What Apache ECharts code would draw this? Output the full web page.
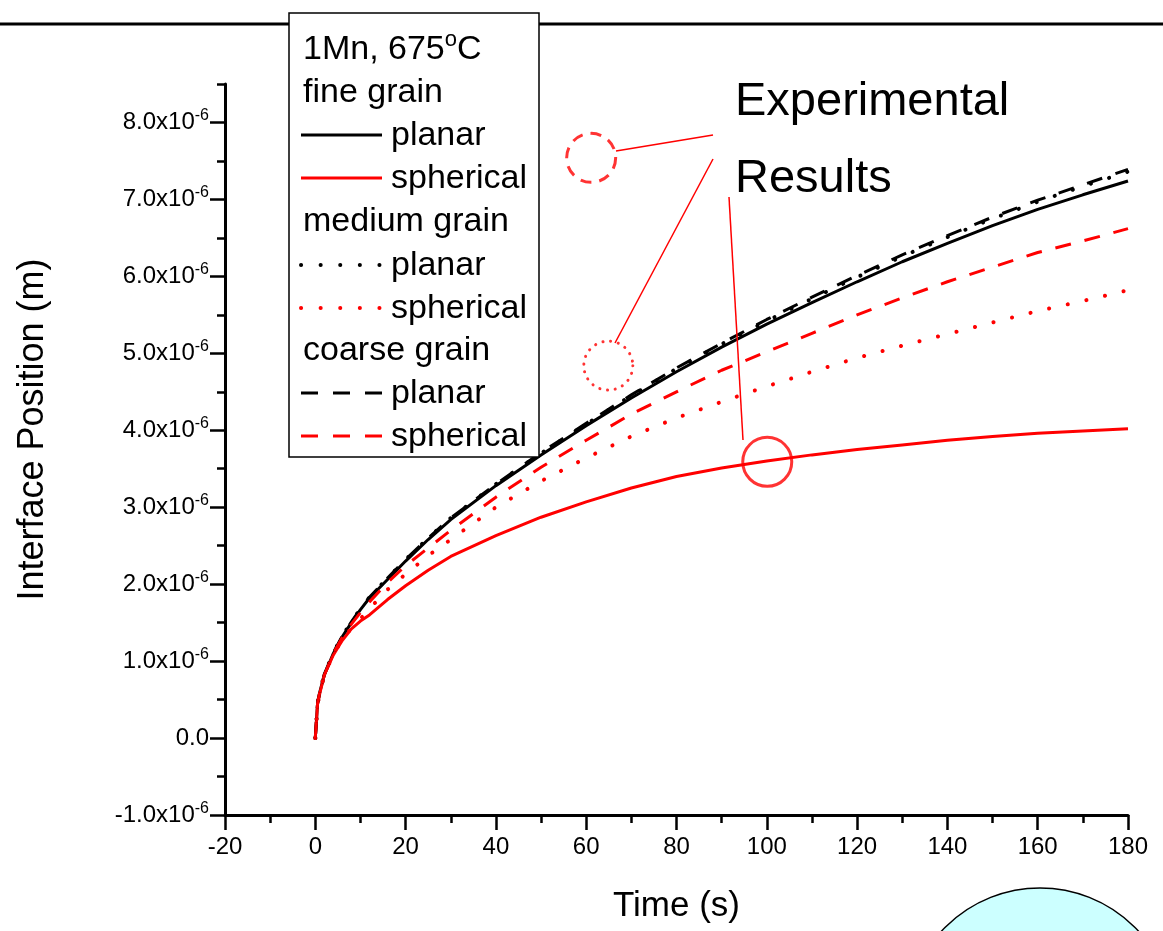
<!DOCTYPE html>
<html>
<head>
<meta charset="utf-8">
<script src="https://cdn.jsdelivr.net/npm/echarts@6/dist/echarts.min.js"></script>
<style>html,body{margin:0;padding:0;background:#fff;}#c{width:1163px;height:931px;}</style>
</head>
<body>
<div id="c"></div>
<script>
// Time (s)
const times = [0,0.5,1,2,4,6,8,10,12,16,20,25,30,40,50,60,70,80,90,100,110,120,130,140,150,160,170,180];
// Interface position, in units of 1e-6 m
const finePlanar     = [0,0.45,0.60,0.82,1.10,1.32,1.50,1.67,1.82,2.06,2.30,2.58,2.84,3.28,3.68,4.06,4.42,4.76,5.08,5.38,5.66,5.93,6.19,6.43,6.66,6.87,7.06,7.24];
const fineSpherical  = [0,0.44,0.58,0.82,1.08,1.27,1.42,1.52,1.60,1.80,1.98,2.18,2.36,2.63,2.87,3.07,3.25,3.40,3.51,3.60,3.68,3.75,3.81,3.87,3.92,3.96,3.99,4.02];
const mediumPlanar   = [0,0.45,0.60,0.83,1.11,1.33,1.51,1.68,1.83,2.08,2.32,2.60,2.86,3.30,3.70,4.08,4.45,4.80,5.12,5.42,5.71,5.99,6.26,6.51,6.75,6.97,7.17,7.36];
const mediumSpherical= [0,0.44,0.59,0.82,1.09,1.28,1.43,1.55,1.68,1.93,2.13,2.37,2.58,3.00,3.34,3.64,3.92,4.16,4.37,4.57,4.76,4.94,5.10,5.25,5.40,5.55,5.68,5.82];
const coarsePlanar   = [0,0.45,0.60,0.83,1.11,1.33,1.51,1.68,1.83,2.08,2.32,2.60,2.86,3.30,3.71,4.09,4.46,4.81,5.13,5.44,5.73,6.01,6.28,6.53,6.77,6.99,7.19,7.39];
const coarseSpherical= [0,0.45,0.60,0.82,1.10,1.31,1.48,1.63,1.77,2.02,2.24,2.47,2.70,3.13,3.52,3.87,4.21,4.50,4.78,5.02,5.26,5.50,5.72,5.93,6.12,6.31,6.46,6.62];
// Experimental results markers: [time, position(1e-6 m)]
const expCoarse = [61.1, 7.54];
const expMedium = [64.9, 4.84];
const expFine   = [100.1, 3.59];
// Tick values
const xTicks = [-20,0,20,40,60,80,100,120,140,160,180];
const yTicks = [-1,0,1,2,3,4,5,6,7,8];

const FONT = '"Liberation Sans", Arial, sans-serif';
const pair = arr => times.map((t,i)=>[t,arr[i]]);
const chart = echarts.init(document.getElementById('c'), null, {renderer:'canvas'});

function lineSeries(name, arr, color, kind){
  let ls = {color: color, width: 3};
  if (kind === 'dash') { ls.type = [16,14]; }
  if (kind === 'dot') { ls.type = [0.1,19]; ls.cap = 'round'; ls.width = 4; }
  return {name, type:'line', data:pair(arr), showSymbol:false, symbol:'none', smooth:false,
    lineStyle: ls, xAxisIndex:0, yAxisIndex:0, z:3, animation:false};
}
function expSeries(pt, btype, cap){
  return {type:'scatter', data:[pt], symbol:'circle', symbolSize:49, xAxisIndex:0, yAxisIndex:0, z:5,
    itemStyle:{color:'rgba(0,0,0,0)', borderColor:'#ff0000', borderWidth:3, borderType:btype, borderCap:cap||'butt'},
    emphasis:{disabled:true}, animation:false, silent:true};
}

const legendRows = [
  {y:92, text:'fine grain'},
  {y:135, text:'planar', color:'#000', kind:'solid'},
  {y:178, text:'spherical', color:'#ff0000', kind:'solid'},
  {y:221, text:'medium grain'},
  {y:265, text:'planar', color:'#000', kind:'dot'},
  {y:308, text:'spherical', color:'#ff0000', kind:'dot'},
  {y:350, text:'coarse grain'},
  {y:393, text:'planar', color:'#000', kind:'dash'},
  {y:436, text:'spherical', color:'#ff0000', kind:'dash'}
];
const graphics = [
  {type:'line', shape:{x1:0,y1:24,x2:1163,y2:24}, style:{stroke:'#000', lineWidth:3}, z:1},
  {type:'rect', shape:{x:289,y:13,width:250,height:444}, style:{fill:'#fff', stroke:'#000', lineWidth:1.5}, z:10},
  {type:'text', x:303, y:50, z:11, style:{text:'{a|1Mn, 675}{s|o}{a|C}', fill:'#000', verticalAlign:'middle', textVerticalAlign:'middle',
     rich:{a:{fontSize:34, fontFamily:FONT, fill:'#000'}, s:{fontSize:22, fontFamily:FONT, fill:'#000', padding:[0,0,20,0]}}}}
];
legendRows.forEach(r=>{
  if (r.kind) {
    let st = {stroke:r.color, lineWidth:3};
    if (r.kind==='dash') st.lineDash=[17,15];
    if (r.kind==='dot') {st.lineDash=[0.1,19.5]; st.lineCap='round'; st.lineWidth=4;}
    graphics.push({type:'line', shape:{x1:301,y1:r.y,x2:382,y2:r.y}, style:st, z:11});
    graphics.push({type:'text', x:391, y:r.y+1, z:11, style:{text:r.text, fill:'#000', fontSize:34, fontFamily:FONT, verticalAlign:'middle', textVerticalAlign:'middle'}});
  } else {
    graphics.push({type:'text', x:303, y:r.y+1, z:11, style:{text:r.text, fill:'#000', fontSize:34, fontFamily:FONT, verticalAlign:'middle', textVerticalAlign:'middle'}});
  }
});
graphics.push(
  {type:'text', x:735, y:126, z:11, style:{text:'Experimental', fill:'#000', fontSize:47, fontFamily:FONT, verticalAlign:'bottom', textVerticalAlign:'bottom'}},
  {type:'text', x:735, y:203, z:11, style:{text:'Results', fill:'#000', fontSize:47, fontFamily:FONT, verticalAlign:'bottom', textVerticalAlign:'bottom'}},
  {type:'line', shape:{x1:616,y1:151,x2:713,y2:135}, style:{stroke:'#ff0000', lineWidth:1.5}, z:6},
  {type:'line', shape:{x1:615,y1:343,x2:713,y2:159}, style:{stroke:'#ff0000', lineWidth:1.5}, z:6},
  {type:'line', shape:{x1:729,y1:197,x2:743,y2:440}, style:{stroke:'#ff0000', lineWidth:1.5}, z:6},
  {type:'circle', shape:{cx:1040, cy:1022, r:134}, style:{fill:'#ccffff', stroke:'#000', lineWidth:1.5}, z:6}
);

const yFmt = v => {
  if (Math.abs(v) < 1e-9) return '{a|0.0}';
  if (v > 8.01) return '';
  return '{a|' + v.toFixed(1) + 'x10}{s|-6}';
};

chart.setOption({
  animation:false,
  backgroundColor:'#fff',
  textStyle:{fontFamily:FONT},
  grid:{left:225, right:35, top:84, bottom:116, containLabel:false},
  xAxis:[{
    type:'value', min:-20, max:180, interval:20, position:'bottom',
    name:'Time (s)', nameLocation:'middle', nameGap:74,
    nameTextStyle:{fontSize:35, fontFamily:FONT, color:'#000'},
    axisLine:{onZero:false, lineStyle:{color:'#000', width:3}},
    axisTick:{show:true, inside:false, length:15, lineStyle:{color:'#000', width:2.5}},
    minorTick:{show:true, splitNumber:2, length:8, lineStyle:{color:'#000', width:2.5}},
    axisLabel:{fontSize:24, fontFamily:FONT, color:'#000', margin:20},
    splitLine:{show:false}, minorSplitLine:{show:false}
  }],
  yAxis:[{
    type:'value', min:-1, max:8.5, interval:0.5, position:'left',
    axisLine:{onZero:false, lineStyle:{color:'#000', width:3}},
    axisTick:{show:true, inside:false, length:8, lineStyle:{color:'#000', width:2.5}},
    axisLabel:{show:false}, splitLine:{show:false}
  },{
    type:'value', min:-1, max:8.5, interval:1, position:'left', offset:0,
    name:'Interface Position (m)', nameLocation:'middle', nameGap:174, nameRotate:90,
    nameTextStyle:{fontSize:36, fontFamily:FONT, color:'#000', padding:[0,0,0,40]},
    axisLine:{show:false, onZero:false},
    axisTick:{show:true, inside:false, length:15, customValues:yTicks, lineStyle:{color:'#000', width:2.5}},
    axisLabel:{show:true, customValues:yTicks, margin:16, color:'#000', fontSize:24, fontFamily:FONT,
      formatter:yFmt,
      rich:{a:{fontSize:24, fontFamily:FONT, color:'#000'}, s:{fontSize:16, fontFamily:FONT, color:'#000', padding:[0,0,13,0]}}},
    splitLine:{show:false}
  }],
  series:[
    lineSeries('fine planar', finePlanar, '#000000', 'solid'),
    lineSeries('fine spherical', fineSpherical, '#ff0000', 'solid'),
    lineSeries('medium planar', mediumPlanar, '#000000', 'dot'),
    lineSeries('medium spherical', mediumSpherical, '#ff0000', 'dot'),
    lineSeries('coarse planar', coarsePlanar, '#000000', 'dash'),
    lineSeries('coarse spherical', coarseSpherical, '#ff0000', 'dash'),
    expSeries(expCoarse, [11,8]),
    expSeries(expMedium, [0.1,7.7], 'round'),
    expSeries(expFine, 'solid')
  ],
  graphic: graphics
});
</script>
</body>
</html>
